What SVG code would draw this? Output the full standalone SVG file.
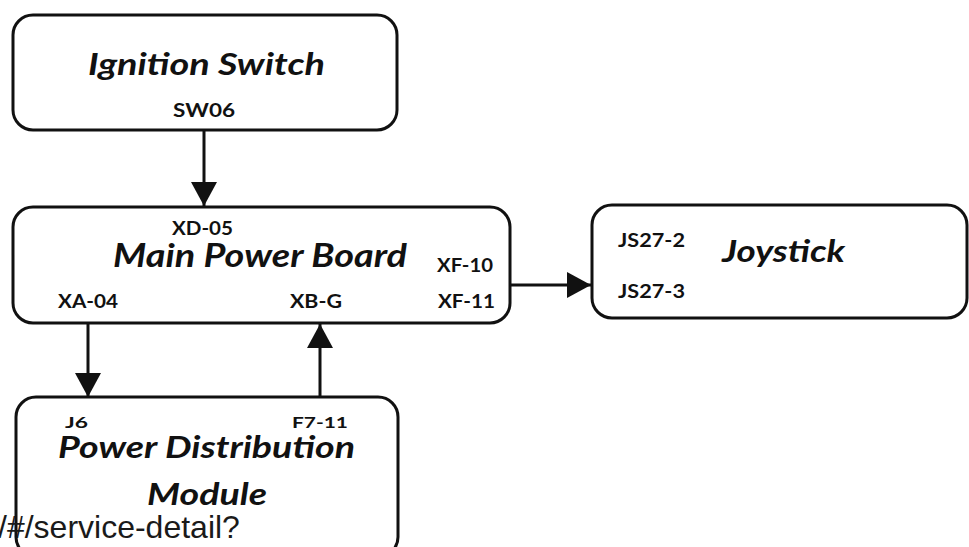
<svg xmlns="http://www.w3.org/2000/svg" width="969" height="547" viewBox="0 0 969 547">
  <style>
    .box { fill: #ffffff; stroke: #111111; stroke-width: 3; }
    .title { font-family: Lato, "Liberation Sans", sans-serif; font-weight: bold; font-style: italic; fill: #111111; }
    .port { font-family: Lato, "Liberation Sans", sans-serif; font-weight: bold; fill: #111111; }
    .wire { stroke: #111111; stroke-width: 3; fill: none; }
    .url { font-family: "Liberation Sans", Arial, sans-serif; fill: #1a1a1a; }
  </style>
  <defs>
    <marker id="arrow" markerUnits="userSpaceOnUse" markerWidth="26" markerHeight="26" refX="24" refY="13" orient="auto">
      <path d="M0,0 L24,13 L0,26 Z" fill="#111111"/>
    </marker>
  </defs>

  <rect width="969" height="547" fill="#ffffff"/>

  <g id="ignition-switch">
    <rect class="box" x="13" y="15" width="384" height="115" rx="20" ry="20"/>
    <text class="title" x="88" y="75" font-size="31" textLength="237" lengthAdjust="spacingAndGlyphs">Ignition Switch</text>
    <text class="port" x="173" y="117" font-size="19" textLength="62" lengthAdjust="spacingAndGlyphs">SW06</text>
  </g>

  <g id="main-power-board">
    <rect class="box" x="13" y="207" width="497" height="116" rx="20" ry="20"/>
    <text class="port" x="172" y="235" font-size="18" textLength="61" lengthAdjust="spacingAndGlyphs">XD-05</text>
    <text class="title" x="113" y="267" font-size="33" textLength="294" lengthAdjust="spacingAndGlyphs">Main Power Board</text>
    <text class="port" x="437" y="272" font-size="18" textLength="56" lengthAdjust="spacingAndGlyphs">XF-10</text>
    <text class="port" x="58" y="308" font-size="18" textLength="60" lengthAdjust="spacingAndGlyphs">XA-04</text>
    <text class="port" x="290" y="308" font-size="18" textLength="52" lengthAdjust="spacingAndGlyphs">XB-G</text>
    <text class="port" x="438" y="308" font-size="18" textLength="57" lengthAdjust="spacingAndGlyphs">XF-11</text>
  </g>

  <g id="joystick">
    <rect class="box" x="592" y="205" width="375" height="113" rx="20" ry="20"/>
    <text class="port" x="618" y="247" font-size="18" textLength="67" lengthAdjust="spacingAndGlyphs">JS27-2</text>
    <text class="title" x="722" y="262" font-size="31" textLength="123" lengthAdjust="spacingAndGlyphs">Joystick</text>
    <text class="port" x="618" y="298" font-size="18" textLength="67" lengthAdjust="spacingAndGlyphs">JS27-3</text>
  </g>

  <g id="power-distribution-module">
    <rect class="box" x="16" y="397" width="382" height="160" rx="20" ry="20"/>
    <text class="port" x="65" y="428" font-size="16" textLength="23" lengthAdjust="spacingAndGlyphs">J6</text>
    <text class="port" x="292" y="428" font-size="16" textLength="56" lengthAdjust="spacingAndGlyphs">F7-11</text>
    <text class="title" x="58" y="458" font-size="30" textLength="297" lengthAdjust="spacingAndGlyphs">Power Distribution</text>
    <text class="title" x="147" y="505" font-size="30" textLength="120" lengthAdjust="spacingAndGlyphs">Module</text>
  </g>

  <g id="connectors">
    <line class="wire" x1="204" y1="130" x2="204" y2="206" marker-end="url(#arrow)"/>
    <line class="wire" x1="510" y1="285" x2="591" y2="285" marker-end="url(#arrow)"/>
    <line class="wire" x1="88" y1="323" x2="88" y2="397" marker-end="url(#arrow)"/>
    <line class="wire" x1="320" y1="397" x2="320" y2="324" marker-end="url(#arrow)"/>
  </g>

  <text class="url" x="-2" y="538" font-size="32">/#/service-detail?</text>
</svg>
